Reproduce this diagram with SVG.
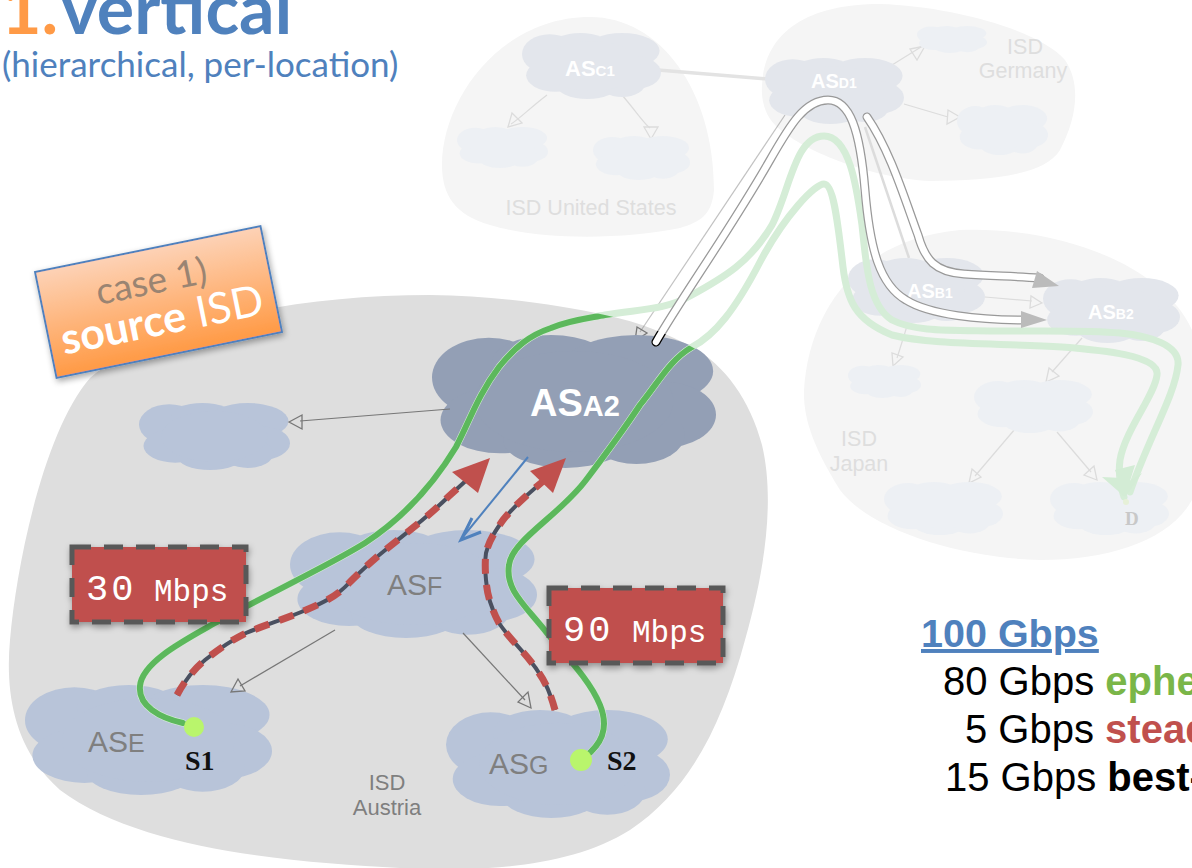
<svg xmlns="http://www.w3.org/2000/svg" width="1192" height="868" viewBox="0 0 1192 868">
<style>
text{font-family:"Liberation Sans",Arial,sans-serif}
.c1{fill:#939fb5}.c2{fill:#b8c4d9}.c3{fill:#e3e6ec}.c4{fill:#edf0f4}
.isd{fill:#f5f5f5}
.t{fill:none;stroke:#777;stroke-width:1.2}
.f{fill:none;stroke:#dcdcdc;stroke-width:1.2}
.hd{fill:none;stroke:#777;stroke-width:1.3}
.hf{fill:none;stroke:#dcdcdc;stroke-width:1.3}
.gs{fill:none;stroke:#5cb85c;stroke-width:6;stroke-linecap:round}
.gf{fill:none;stroke:#d5edd7;stroke-width:7;stroke-linecap:round;stroke-linejoin:round}
.to{fill:none;stroke:#999;stroke-width:9;stroke-linecap:round}
.ti{fill:none;stroke:#fff;stroke-width:6.500;stroke-linecap:round}
.rb{fill:none;stroke:#4a5060;stroke-width:4}
.rd{fill:none;stroke:#c0504d;stroke-width:7;stroke-dasharray:15 11}
.bx{fill:#c0504d;stroke:#595959;stroke-width:5;stroke-dasharray:19 13}
.lb{font-family:"Liberation Mono",monospace;fill:#fff}
.wl{fill:#fff;font-weight:bold}
.gl{fill:#7f7f7f}
.fl{fill:#dedede;text-anchor:middle;font-size:21.500px}
.s{font-family:"Liberation Serif",serif;font-weight:bold;font-size:28px;fill:#111}
.h{font-size:40px;fill:#000}
</style>
<defs>
<symbol id="cloud" viewBox="0 0 100 100" preserveAspectRatio="none">
<ellipse cx="20" cy="32" rx="20" ry="30"/><ellipse cx="42" cy="21" rx="21" ry="21"/><ellipse cx="72" cy="27" rx="27" ry="27"/>
<ellipse cx="81" cy="60" rx="19" ry="25"/><ellipse cx="24" cy="64" rx="21" ry="25"/><ellipse cx="47" cy="79" rx="22" ry="21"/><ellipse cx="72" cy="75" rx="17" ry="22"/><ellipse cx="50" cy="50" rx="35" ry="38"/>
</symbol>
<linearGradient id="og" x1="0" y1="0" x2="0" y2="1"><stop offset="0" stop-color="#fdd2b6"/><stop offset="1" stop-color="#ff9a45"/></linearGradient>
<path id="aus" d="M90 378C150 325 290 295 430 295C500 296 560 305 605 315C640 322 670 335 692 347C725 365 750 400 762 445C775 500 765 570 745 640C722 725 690 790 630 830C570 868 480 872 400 868C290 862 140 850 60 790C15 750 5 695 10 640C17 560 45 430 90 378Z"/>
<clipPath id="ac"><use href="#aus"/></clipPath>
<filter id="sh" x="-10%" y="-10%" width="120%" height="125%"><feDropShadow dx="1" dy="3" stdDeviation="3" flood-opacity=".35"/></filter>
<path id="g1" d="M183 723C160 718 138 706 140 686C142 662 185 640 215 623C260 598 330 565 365 543C400 520 430 490 456 447C470 420 478 395 499 367C515 347 530 335 551 328C570 320 590 318 605 315C640 309 665 310 690 296C725 277 750 262 772 225C790 190 795 136 824 136C850 136 857 190 862 225C866 262 868 305 892 320C915 332 950 330 1000 331C1050 331 1090 330 1120 333C1150 336 1180 345 1178 365C1175 395 1150 435 1130 492"/>
<path id="g2" d="M585 757C600 745 610 730 600 705C590 680 565 655 547 633C525 605 505 590 509 565C512 540 560 515 586 480C605 455 620 435 640 405C660 380 670 360 692 347C715 335 735 310 760 262C785 215 815 184 824 184C834 184 838 225 843 267C847 300 855 320 892 335C930 345 1000 343 1062 347C1100 350 1160 355 1157 375C1155 395 1125 430 1120 460C1118 475 1120 485 1124 497"/>
<path id="t1" d="M656 342C680 300 730 230 770 160C790 125 805 100 828 100C850 100 860 130 865 190C870 250 880 285 906 300C930 315 980 320 1025 320"/>
<path id="t2" d="M867 117C890 150 905 200 918 235C925 260 935 272 964 274C990 276 1010 276 1040 278"/>
</defs>

<g id="title">
<text x="1" y="34" font-size="70" font-weight="bold" style="font-family:Lato,sans-serif" fill="#ff9a46">1.</text>
<text x="61" y="34" font-size="70" font-weight="bold" style="font-family:Lato,sans-serif" fill="#4f81bd">vertical</text>
<text x="2" y="77" font-size="35" style="font-family:Lato,sans-serif" fill="#4f81bd">(hierarchical, per-location)</text>
</g>

<g id="isd-us"><path class="isd" d="M442 165C442 100 500 17 590 17C660 17 714 90 714 190C712 215 700 222 680 228C620 240 540 240 490 225C455 215 442 195 442 165Z"/><text class="fl" x="591" y="215">ISD United States</text></g>
<g id="isd-germany"><path class="isd" d="M762 85C765 30 810 4 880 4C950 6 1040 30 1065 60C1082 85 1076 120 1060 150C1045 175 990 181 930 181C870 178 800 150 775 125C765 115 761 100 762 85Z"/><text class="fl" x="1025" y="54">ISD</text><text class="fl" x="1023" y="78">Germany</text></g>
<g id="isd-japan"><path class="isd" d="M804 390C808 320 850 240 960 230C1050 226 1160 260 1192 330L1192 500C1170 540 1110 560 1040 560C960 558 870 530 840 490C815 450 803 420 804 390Z"/><text class="fl" x="859" y="446">ISD</text><text class="fl" x="859" y="471">Japan</text></g>
<g id="isd-austria"><use href="#aus" fill="#dedede"/><text x="387" y="790" text-anchor="middle" font-size="22" class="gl">ISD</text><text x="387" y="815" text-anchor="middle" font-size="22" class="gl">Austria</text></g>

<g id="connectors">
<path d="M658 70L768 79" fill="none" stroke="#e3e3e3" stroke-width="3.500"/>
<path d="M865 127L909 258" fill="none" stroke="#dcdcdc" stroke-width="2.500"/>
<path class="f" d="M892 65L921 47"/><path class="hf" d="M925 46L910 49L917 60Z"/>
<path class="f" d="M904 104L948 117"/><path class="hf" d="M960 117L948 110L947 124Z"/>
<path class="f" d="M547 95C530 108 518 120 511 124"/><path class="hf" d="M508 127L512 113L522 123Z"/>
<path class="f" d="M622 95C635 110 645 125 650 128"/><path class="hf" d="M651 139L644 127L658 127Z"/>
<path class="f" d="M985 297L1032 301"/><path class="hf" d="M1042 303L1031 296L1030 308Z"/>
<path class="f" d="M908 323L897 358"/><path class="hf" d="M893 366L892 353L903 357Z"/>
<path class="f" d="M1082 338L1052 372"/><path class="hf" d="M1046 382L1049 368L1059 376Z"/>
<path class="f" d="M1015 429L975 476"/><path class="hf" d="M969 483L972 469L981 477Z"/>
<path class="f" d="M1057 432L1091 472"/><path class="hf" d="M1097 480L1084 475L1094 466Z"/>
<path class="t" d="M785 115L640 332" stroke-opacity=".45"/>
<path class="hd" d="M635 341L637 327L647 333Z"/>
</g>

<g id="cloud-asc1"><use href="#cloud" class="c3" x="522" y="33" width="139" height="66"/><text class="wl" x="565" y="76" font-size="22">AS<tspan font-size="15">C1</tspan></text></g>
<g id="cloud-c-left"><use href="#cloud" class="c4" x="457" y="127" width="91" height="41"/></g>
<g id="cloud-c-right"><use href="#cloud" class="c4" x="593" y="136" width="97" height="44"/></g>
<g id="cloud-asd1"><use href="#cloud" class="c3" x="765" y="58" width="139" height="66"/><text class="wl" x="811" y="88" font-size="20">AS<tspan font-size="14">D1</tspan></text></g>
<g id="cloud-d-top"><use href="#cloud" class="c4" x="917" y="26" width="70" height="27"/></g>
<g id="cloud-d-right"><use href="#cloud" class="c4" x="957" y="105" width="91" height="50"/></g>
<g id="cloud-asb1"><use href="#cloud" class="c3" x="848" y="258" width="137" height="65"/><text class="wl" x="907" y="298" font-size="20">AS<tspan font-size="14">B1</tspan></text></g>
<g id="cloud-asb2"><use href="#cloud" class="c3" x="1043" y="278" width="137" height="65"/><text class="wl" x="1088" y="319" font-size="20">AS<tspan font-size="14">B2</tspan></text></g>
<g id="cloud-j-small"><use href="#cloud" class="c4" x="848" y="365" width="73" height="33"/></g>
<g id="cloud-j-mid"><use href="#cloud" class="c4" x="974" y="380" width="119" height="53"/></g>
<g id="cloud-j-left"><use href="#cloud" class="c4" x="884" y="482" width="119" height="53"/></g>
<g id="cloud-d"><use href="#cloud" class="c4" x="1050" y="482" width="119" height="53"/><text x="1125" y="525" font-size="19" font-weight="bold" style="font-family:'Liberation Serif',serif" fill="#c8c8c8">D</text></g>

<g id="cloud-asa2"><use href="#cloud" class="c1" x="432" y="335" width="284" height="133"/><text class="wl" x="530" y="416" font-size="38">AS<tspan font-size="29">A2</tspan></text></g>
<g id="cloud-unnamed"><use href="#cloud" class="c2" x="139" y="403" width="151" height="67"/></g>
<g id="cloud-asf"><use href="#cloud" class="c2" x="290" y="530" width="247" height="108"/><text class="gl" x="387" y="595" font-size="30">AS<tspan font-size="25">F</tspan></text></g>
<g id="cloud-ase"><use href="#cloud" class="c2" x="25" y="685" width="247" height="110"/><text class="gl" x="88" y="752" font-size="30">AS<tspan font-size="25">E</tspan></text></g>
<g id="cloud-asg"><use href="#cloud" class="c2" x="446" y="710" width="224" height="108"/><text class="gl" x="489" y="774" font-size="30">AS<tspan font-size="25">G</tspan></text></g>

<g id="links">
<path class="t" d="M450 409L300 421"/><path class="hd" d="M289 422L302 415L302 429Z"/>
<path class="t" d="M335 630L240 686"/><path class="hd" d="M231 692L238 679L245 691Z"/>
<path class="t" d="M463 633L525 700"/><path class="hd" d="M531 708L518 702L528 692Z"/>
<path d="M528 457L462 538" fill="none" stroke="#4f81bd" stroke-width="2"/>
<path d="M472 518L461 540L481 532" fill="none" stroke="#4f81bd" stroke-width="3"/>
<use href="#g1" class="gf"/><use href="#g2" class="gf"/>
<path d="M1102 477L1125 497L1142 473L1128 482L1122 478Z M1115 470L1125 497L1135 465Z" fill="#d3ecd5"/>
<g clip-path="url(#ac)"><use href="#g1" class="gs"/><use href="#g2" class="gs"/></g>
<use href="#t1" class="to"/><use href="#t2" class="to"/>
<g clip-path="url(#ac)"><use href="#t1" fill="none" stroke="#000" stroke-width="9" stroke-linecap="round"/></g>
<use href="#t1" class="ti"/><use href="#t2" class="ti"/>
<path d="M1047 320L1021 311L1021 328Z" fill="#bbb"/>
<path d="M1059 286L1037 271L1032 288Z" fill="#bbb"/>
<path class="rb" d="M177 695C185 680 195 668 205 660C220 648 232 640 246 633C265 625 285 619 306 610C325 602 338 595 349 583C362 570 375 558 389 547C410 530 430 515 448 497L470 477"/>
<path class="rb" d="M555 710C551 695 546 683 539 673C528 655 510 640 499 623C492 610 487 595 486 580C485 570 485 560 486 553C489 540 496 530 503 520C515 505 530 492 547 478"/>
<path class="rd" d="M177 695C185 680 195 668 205 660C220 648 232 640 246 633C265 625 285 619 306 610C325 602 338 595 349 583C362 570 375 558 389 547C410 530 430 515 448 497L470 477"/>
<path class="rd" d="M555 710C551 695 546 683 539 673C528 655 510 640 499 623C492 610 487 595 486 580C485 570 485 560 486 553C489 540 496 530 503 520C515 505 530 492 547 478"/>
<path d="M490 458L452 472L478 493Z" fill="#c0504d"/>
<path d="M566 458L530 471L553 493Z" fill="#c0504d"/>
</g>

<g id="endpoints">
<circle cx="194" cy="727" r="10" fill="#b9f56c"/><text class="s" x="185" y="770">S1</text>
<circle cx="581" cy="760" r="11" fill="#b9f56c"/><text class="s" x="607" y="770">S2</text>
<circle cx="1126" cy="502" r="3" fill="#e6f0d8"/>
</g>

<g id="box-30"><rect class="bx" x="72" y="547" width="174" height="75" filter="url(#sh)"/><text class="lb" x="86" y="600" font-size="37" letter-spacing="3">30</text><text class="lb" x="154" y="601" font-size="31">Mbps</text></g>
<g id="box-90"><rect class="bx" x="549" y="588" width="174" height="75" filter="url(#sh)"/><text class="lb" x="563" y="641" font-size="37" letter-spacing="3">90</text><text class="lb" x="632" y="642" font-size="31">Mbps</text></g>

<g id="case-box" transform="translate(158.500 302) rotate(-11.500)">
<rect x="-115" y="-54" width="230" height="108" fill="url(#og)" stroke="#4f81bd" stroke-width="2" filter="url(#sh)"/>
<text x="-3" y="-9" text-anchor="middle" font-size="37" style="font-family:Lato,sans-serif" fill="#9a8472">case 1)</text>
<text x="0" y="33" text-anchor="middle" font-size="43" style="font-family:Lato,sans-serif" fill="#fff"><tspan font-weight="bold">source</tspan> ISD</text>
</g>

<g id="legend">
<text x="921" y="647" font-size="39.500" font-weight="bold" fill="#4f81bd" text-decoration="underline">100 Gbps</text>
<text class="h" x="943" y="695">80 Gbps <tspan font-weight="bold" fill="#7ab648">ephe</tspan></text>
<text class="h" x="965" y="743">5 Gbps <tspan font-weight="bold" fill="#c0504d">stead</tspan></text>
<text class="h" x="945" y="791">15 Gbps <tspan font-weight="bold">best-</tspan></text>
</g>
</svg>
